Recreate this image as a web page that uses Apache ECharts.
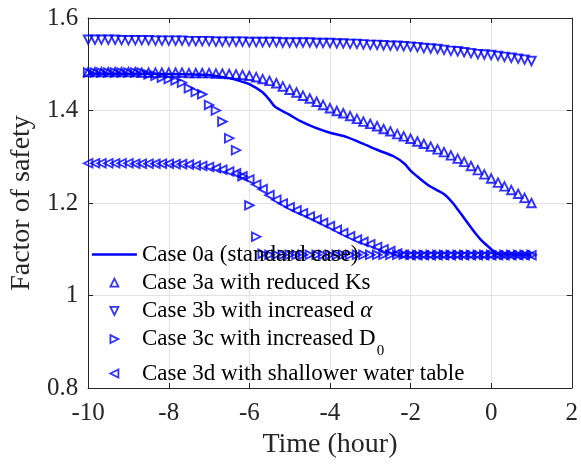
<!DOCTYPE html>
<html><head><meta charset="utf-8">
<script src="https://cdn.jsdelivr.net/npm/echarts@6/dist/echarts.min.js"></script>
<style>html,body{margin:0;padding:0;background:#fff}#c{width:581px;height:464px}</style>
</head><body><div id="c"></div>
<script>
// ---- data ----
const seriesNames = [
  'Case 0a (standard case)',
  'Case 3a with reduced Ks',
  'Case 3b with increased \u03b1',
  'Case 3c with increased D0',
  'Case 3d with shallower water table'
];
const legendLabels = [
  '{t|Case 0a (standard case)}',
  '{t|Case 3a with reduced Ks}',
  '{t|Case 3b with increased }{a|\u03b1}',
  '{t|Case 3c with increased D}{sub|0}',
  '{t|Case 3d with shallower water table}'
];
const xRange = [-10, 2, 2];     // min, max, interval
const yRange = [0.8, 1.6, 0.2];

// common time grid (hours) for marker series
const timeGrid = [-10, -9.83, -9.67, -9.5, -9.33, -9.17, -9, -8.83, -8.67, -8.5, -8.33, -8.17, -8,
  -7.83, -7.67, -7.5, -7.33, -7.17, -7, -6.83, -6.67, -6.5, -6.33, -6.17, -6,
  -5.83, -5.67, -5.5, -5.33, -5.17, -5, -4.83, -4.67, -4.5, -4.33, -4.17, -4,
  -3.83, -3.67, -3.5, -3.33, -3.17, -3, -2.83, -2.67, -2.5, -2.33, -2.17, -2,
  -1.83, -1.67, -1.5, -1.33, -1.17, -1, -0.83, -0.67, -0.5, -0.33, -0.17, 0,
  0.17, 0.33, 0.5, 0.67, 0.83, 1];

// Case 0a (solid line)
const time0a = [-10, -8, -7, -6.8, -6.5, -6.2, -6, -5.68, -5.5, -5.36, -5.03, -4.73, -4.4, -4.0, -3.6, -3.2,
  -2.8, -2.4, -2.15, -2.0, -1.8, -1.55, -1.35, -1.15, -0.95, -0.82, -0.65, -0.5, -0.27, 0.0, 0.13, 1.0];
const case0a = [1.480, 1.479, 1.477, 1.474, 1.470, 1.463, 1.457, 1.440, 1.423, 1.408, 1.392, 1.377, 1.364, 1.352, 1.343, 1.329,
  1.314, 1.300, 1.285, 1.270, 1.255, 1.238, 1.228, 1.218, 1.200, 1.185, 1.165, 1.147, 1.122, 1.100, 1.089, 1.088];

const case3a = [1.483, 1.483, 1.483, 1.483, 1.483, 1.483, 1.483, 1.483, 1.482, 1.482, 1.482, 1.482, 1.482,
  1.482, 1.482, 1.481, 1.481, 1.481, 1.481, 1.480, 1.480, 1.479, 1.478, 1.477, 1.475,
  1.472, 1.468, 1.464, 1.459, 1.452, 1.445, 1.439, 1.432, 1.426, 1.419, 1.412, 1.405,
  1.399, 1.394, 1.388, 1.382, 1.376, 1.371, 1.366, 1.360, 1.355, 1.349, 1.344, 1.339,
  1.333, 1.328, 1.322, 1.316, 1.310, 1.303, 1.296, 1.289, 1.280, 1.271, 1.262, 1.253,
  1.244, 1.236, 1.228, 1.220, 1.211, 1.200];

const case3b = [1.553, 1.553, 1.553, 1.553, 1.553, 1.552, 1.552, 1.552, 1.552, 1.552, 1.551, 1.551, 1.551,
  1.551, 1.551, 1.550, 1.550, 1.550, 1.550, 1.549, 1.549, 1.549, 1.549, 1.549, 1.548,
  1.548, 1.548, 1.548, 1.548, 1.547, 1.547, 1.547, 1.547, 1.547, 1.546, 1.546, 1.546,
  1.545, 1.545, 1.544, 1.544, 1.543, 1.542, 1.542, 1.541, 1.540, 1.540, 1.539, 1.538,
  1.537, 1.535, 1.534, 1.533, 1.531, 1.529, 1.528, 1.526, 1.524, 1.522, 1.521, 1.520,
  1.518, 1.516, 1.514, 1.512, 1.510, 1.507];

const case3c = [1.482, 1.482, 1.482, 1.482, 1.482, 1.482, 1.482, 1.482, 1.482, 1.478, 1.475, 1.471, 1.468,
  1.465, 1.460, 1.448, 1.440, 1.435, 1.412, 1.400, 1.376, 1.340, 1.314, 1.258, 1.195,
  1.127, 1.090, 1.088, 1.088, 1.088, 1.088, 1.088, 1.088, 1.088, 1.088, 1.088, 1.088,
  1.088, 1.088, 1.088, 1.088, 1.088, 1.088, 1.088, 1.088, 1.088, 1.088, 1.088, 1.088,
  1.088, 1.088, 1.088, 1.088, 1.088, 1.088, 1.088, 1.088, 1.088, 1.088, 1.088, 1.088,
  1.088, 1.088, 1.088, 1.088, 1.088, 1.088];

const case3d = [1.286, 1.286, 1.286, 1.286, 1.286, 1.286, 1.286, 1.285, 1.285, 1.285, 1.285, 1.285, 1.285,
  1.284, 1.284, 1.283, 1.281, 1.280, 1.278, 1.275, 1.272, 1.268, 1.264, 1.258, 1.251,
  1.240, 1.230, 1.217, 1.207, 1.199, 1.191, 1.184, 1.178, 1.171, 1.164, 1.157, 1.150,
  1.142, 1.135, 1.128, 1.121, 1.116, 1.111, 1.105, 1.100, 1.096, 1.091, 1.088, 1.087,
  1.087, 1.087, 1.087, 1.087, 1.087, 1.087, 1.087, 1.087, 1.087, 1.087, 1.087, 1.087,
  1.087, 1.087, 1.087, 1.087, 1.087, 1.087];

// ---- chart ----
const BLUE = '#0000ff';
const AX = '#262626';
const FONT = '"Liberation Serif", "Times New Roman", serif';
const pair = (xs, ys) => ys.map((v, i) => [xs[i], v]);

const markerStyle = { color: 'transparent', borderColor: BLUE, borderWidth: 1.9 };
function scatter(name, data, rotate) {
  return {
    name, type: 'scatter', data: pair(timeGrid, data),
    symbol: 'triangle', symbolSize: 8.5, symbolRotate: rotate,
    itemStyle: markerStyle, silent: true
  };
}

const chart = echarts.init(document.getElementById('c'), null, { renderer: 'canvas' });
const axisCommon = {
  axisLine: { show: true, onZero: false, lineStyle: { color: AX, width: 1 } },
  axisTick: { show: true, inside: true, length: 5, lineStyle: { color: AX } },
};
const legendText = {
  fontFamily: FONT, fontSize: 23, color: '#000', lineHeight: 23,
  rich: {
    t: { fontFamily: FONT, fontSize: 23, lineHeight: 23, verticalAlign: 'top', color: '#000' },
    a: { fontFamily: FONT, fontSize: 23, lineHeight: 23, verticalAlign: 'top', fontStyle: 'italic', color: '#000' },
    sub: { fontFamily: FONT, fontSize: 15, lineHeight: 15, verticalAlign: 'top', padding: [16, 0, 0, 1], color: '#000' }
  }
};
const legendFmt = n => legendLabels[seriesNames.indexOf(n)];
// legend icons laid out in a 45x8 box: a line sample, and small triangles centred in the box
const LEGEND_ICONS = [
  'path://M0,0 L45,0 L45,2.5 L0,2.5 Z',
  'path://M0,0 M45,8 M18.5,8 L22.5,0 L26.5,8 Z',
  'path://M0,0 M45,8 M18.5,0 L26.5,0 L22.5,8 Z',
  'path://M0,0 M45,8 M18.5,0 L26.5,4 L18.5,8 Z',
  'path://M0,0 M45,8 M26.5,0 L18.5,4 L26.5,8 Z'
];
const legendItem = (i) => i === 0
  ? { name: seriesNames[0], icon: LEGEND_ICONS[0], itemStyle: { color: BLUE, borderWidth: 0 } }
  : { name: seriesNames[i], icon: LEGEND_ICONS[i], symbolRotate: 0,
      itemStyle: { color: 'transparent', borderColor: BLUE, borderWidth: 1.8 } };

chart.setOption({
  animation: false,
  backgroundColor: '#fff',
  grid: { left: 82, right: 0, top: 18, bottom: 72, containLabel: false },
  xAxis: [{
    type: 'value', min: xRange[0], max: xRange[1], interval: xRange[2], position: 'bottom',
    ...axisCommon,
    axisLabel: { fontFamily: FONT, fontSize: 25, color: AX, margin: 13 },
    splitLine: { show: true, lineStyle: { color: '#e3e3e3', width: 1 } },
    name: 'Time (hour)', nameLocation: 'middle', nameGap: 43,
    nameTextStyle: { fontFamily: FONT, fontSize: 28, color: AX }
  }, {
    type: 'value', min: xRange[0], max: xRange[1], interval: xRange[2], position: 'top',
    ...axisCommon, axisLabel: { show: false }, splitLine: { show: false }
  }],
  yAxis: [{
    type: 'value', min: yRange[0], max: yRange[1], interval: yRange[2], position: 'left',
    ...axisCommon,
    axisLabel: { fontFamily: FONT, fontSize: 25, color: AX, margin: 10 },
    splitLine: { show: true, lineStyle: { color: '#e3e3e3', width: 1 } },
    name: 'Factor of safety', nameLocation: 'middle', nameGap: 45,
    nameTextStyle: { fontFamily: FONT, fontSize: 28, color: AX }
  }, {
    type: 'value', min: yRange[0], max: yRange[1], interval: yRange[2], position: 'right',
    ...axisCommon, axisLabel: { show: false }, splitLine: { show: false }
  }],
  legend: [{
    orient: 'vertical', left: 86, top: 238, itemWidth: 45, itemHeight: 8, itemGap: 5.2,
    symbolKeepAspect: true, symbolRotate: 0,
    selectedMode: false, data: [0, 1, 2, 3].map(legendItem),
    textStyle: legendText, formatter: legendFmt
  }, {
    orient: 'vertical', left: 86, top: 357, itemWidth: 45, itemHeight: 8, itemGap: 5.2,
    symbolKeepAspect: true, symbolRotate: 0,
    selectedMode: false, data: [4].map(legendItem),
    textStyle: legendText, formatter: legendFmt
  }],
  series: [
    { name: seriesNames[0], type: 'line', data: pair(time0a, case0a), symbol: 'none', showSymbol: false,
      smooth: 0.3, lineStyle: { color: BLUE, width: 2.5 }, itemStyle: { color: BLUE }, silent: true },
    scatter(seriesNames[1], case3a, 0),
    scatter(seriesNames[2], case3b, 180),
    scatter(seriesNames[3], case3c, -90),
    scatter(seriesNames[4], case3d, 90)
  ]
});
</script></body></html>
